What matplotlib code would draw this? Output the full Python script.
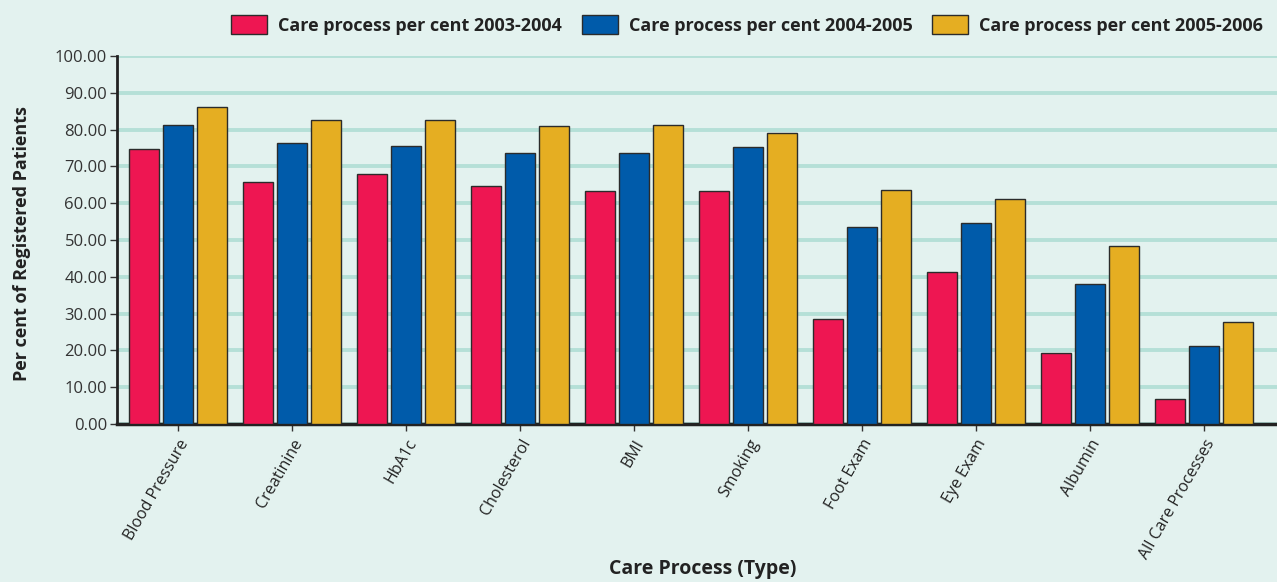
import numpy as np
import matplotlib
matplotlib.use("Agg")
import matplotlib.pyplot as plt

plt.rcParams["font.family"] = ["Open Sans", "DejaVu Sans"]

# 항목별 관리 수행 비율 (%)
categories = ["Blood Pressure", "Creatinine", "HbA1c", "Cholesterol", "BMI",
              "Smoking", "Foot Exam", "Eye Exam", "Albumin", "All Care Processes"]
pct_2003_04 = [74.7, 65.8, 67.9, 64.8, 63.4, 63.4, 28.5, 41.2, 19.4, 6.8]
pct_2004_05 = [81.2, 76.4, 75.5, 73.7, 73.7, 75.2, 53.5, 54.5, 38.0, 21.1]
pct_2005_06 = [86.1, 82.6, 82.6, 81.1, 81.2, 79.2, 63.5, 61.1, 48.4, 27.7]
series_labels = ["Care process per cent 2003-2004",
                 "Care process per cent 2004-2005",
                 "Care process per cent 2005-2006"]
yticks = np.arange(0, 101, 10)

BG = "#E3F2EF"
COLORS = ["#EE1652", "#005BAA", "#E5AE22"]

fig = plt.figure(figsize=(12.77, 5.82), dpi=100, facecolor=BG)
ax = fig.add_axes([0.0916, 0.2715, 0.9084, 0.6323])
ax.set_facecolor(BG)

x = np.arange(len(categories))
width = 0.263
step = 0.298
for i, (vals, col, lab) in enumerate(zip([pct_2003_04, pct_2004_05, pct_2005_06],
                                          COLORS, series_labels)):
    ax.bar(x + (i - 1) * step, vals, width, color=col, edgecolor="#2b2b2b",
           linewidth=1.0, label=lab, zorder=3)

ax.set_ylim(0, 100)
ax.set_xlim(-0.535, 9.64)
ax.set_yticks(yticks)
ax.set_yticklabels([f"{v:.2f}" for v in yticks], fontsize=12, color="#333333")
ax.set_xticks(x)
ax.set_xticklabels(categories, rotation=60, ha="right", rotation_mode="anchor",
                   fontsize=11.5, color="#222222")
ax.grid(axis="y", color="#B5E0D7", linewidth=2.8, zorder=0)
ax.set_axisbelow(True)

for s in ["top", "right"]:
    ax.spines[s].set_visible(False)
ax.spines["left"].set_linewidth(2)
ax.spines["bottom"].set_linewidth(2.5)
ax.spines["left"].set_color("#222222")
ax.spines["bottom"].set_color("#222222")
ax.tick_params(axis="y", length=5, width=1, color="#333333", pad=2)
ax.tick_params(axis="x", length=5, width=1, color="#333333", pad=4)

ax.set_ylabel("Per cent of Registered Patients", fontsize=13, fontweight="bold",
              color="#222222")
ax.yaxis.set_label_coords(-0.074, 0.49)
fig.text(0.55, 0.022, "Care Process (Type)", ha="center", va="center",
         fontsize=14, fontweight="bold", color="#222222")

fig.legend(loc="center", bbox_to_anchor=(0.585, 0.957), ncol=3, frameon=False,
           prop={"size": 13, "weight": "bold"}, handlelength=2.0,
           handleheight=1.2, columnspacing=1.1, handletextpad=0.6,
           labelcolor="#222222")

fig.savefig("out.png", dpi=100, facecolor=BG)
